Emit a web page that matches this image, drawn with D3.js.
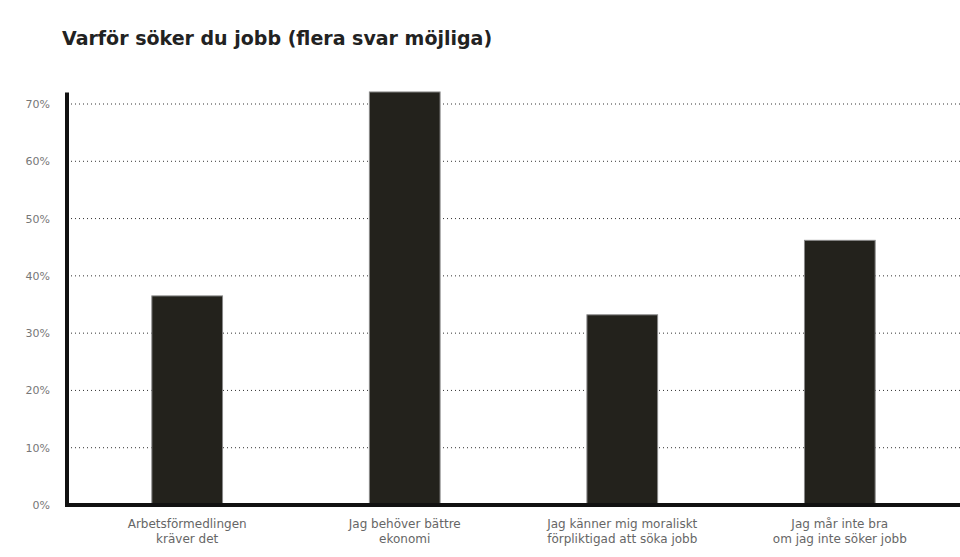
<!DOCTYPE html>
<html><head><meta charset="utf-8">
<script src="https://cdn.jsdelivr.net/npm/d3@7"></script>
<style>body{margin:0;background:#fff;}svg{display:block;font-family:"DejaVu Sans",sans-serif;}</style>
</head><body><svg id="c" width="960" height="557"></svg>
<script>
const categories = [
  ["Arbetsförmedlingen", "kräver det"],
  ["Jag behöver bättre", "ekonomi"],
  ["Jag känner mig moraliskt", "förpliktigad att söka jobb"],
  ["Jag mår inte bra", "om jag inte söker jobb"]
];
const values = [36.5, 72.1, 33.2, 46.2];
const yTicks = [0, 10, 20, 30, 40, 50, 60, 70];
const title = "Varför söker du jobb (flera svar möjliga)";

const svg = d3.select("#c");
const m = {l: 67, r: 0, t: 104, b: 52};
const W = 960, H = 557;
const x = d3.scaleBand().domain(d3.range(categories.length)).range([m.l, W - m.r]).paddingInner(0.675).paddingOuter(0.39);
const y = d3.scaleLinear().domain([0, 70]).range([H - m.b, m.t]);

svg.append("text").attr("x", 62).attr("y", 45).attr("font-size", 19).attr("font-weight", "bold")
  .attr("fill", "#222").text(title);

// gridlines
svg.append("g").selectAll("line").data(yTicks.filter(d => d > 0)).join("line")
  .attr("x1", m.l).attr("x2", W).attr("y1", d => y(d)).attr("y2", d => y(d))
  .attr("stroke", "#333").attr("stroke-width", 1).attr("stroke-dasharray", "1,3");

// y tick labels via axis
const ya = svg.append("g").attr("transform", `translate(${m.l},0)`)
  .call(d3.axisLeft(y).tickValues(yTicks).tickFormat(d => d + "%").tickSize(0).tickPadding(17));
ya.select(".domain").remove();
ya.selectAll("text").attr("font-size", 11).attr("fill", "#777").attr("font-family", "DejaVu Sans, sans-serif");

// bars
svg.append("g").selectAll("rect").data(values).join("rect")
  .attr("x", (d, i) => x(i)).attr("width", x.bandwidth())
  .attr("y", d => y(d)).attr("height", d => y(0) - y(d))
  .attr("fill", "#23221c").attr("stroke", "#888").attr("stroke-width", 1);

// axes lines
svg.append("line").attr("x1", m.l).attr("x2", m.l).attr("y1", y(72)).attr("y2", y(0) + 2)
  .attr("stroke", "#111").attr("stroke-width", 4);
svg.append("line").attr("x1", m.l - 2).attr("x2", W).attr("y1", y(0)).attr("y2", y(0))
  .attr("stroke", "#111").attr("stroke-width", 4);

// category labels
const xl = svg.append("g").selectAll("text").data(categories).join("text")
  .attr("x", (d, i) => x(i) + x.bandwidth() / 2).attr("y", 528)
  .attr("text-anchor", "middle").attr("font-size", 12).attr("fill", "#666");
xl.selectAll("tspan").data(d => d).join("tspan")
  .attr("x", function() { return d3.select(this.parentNode).attr("x"); })
  .attr("dy", (d, i) => i === 0 ? 0 : 15).text(d => d);
</script></body></html>
